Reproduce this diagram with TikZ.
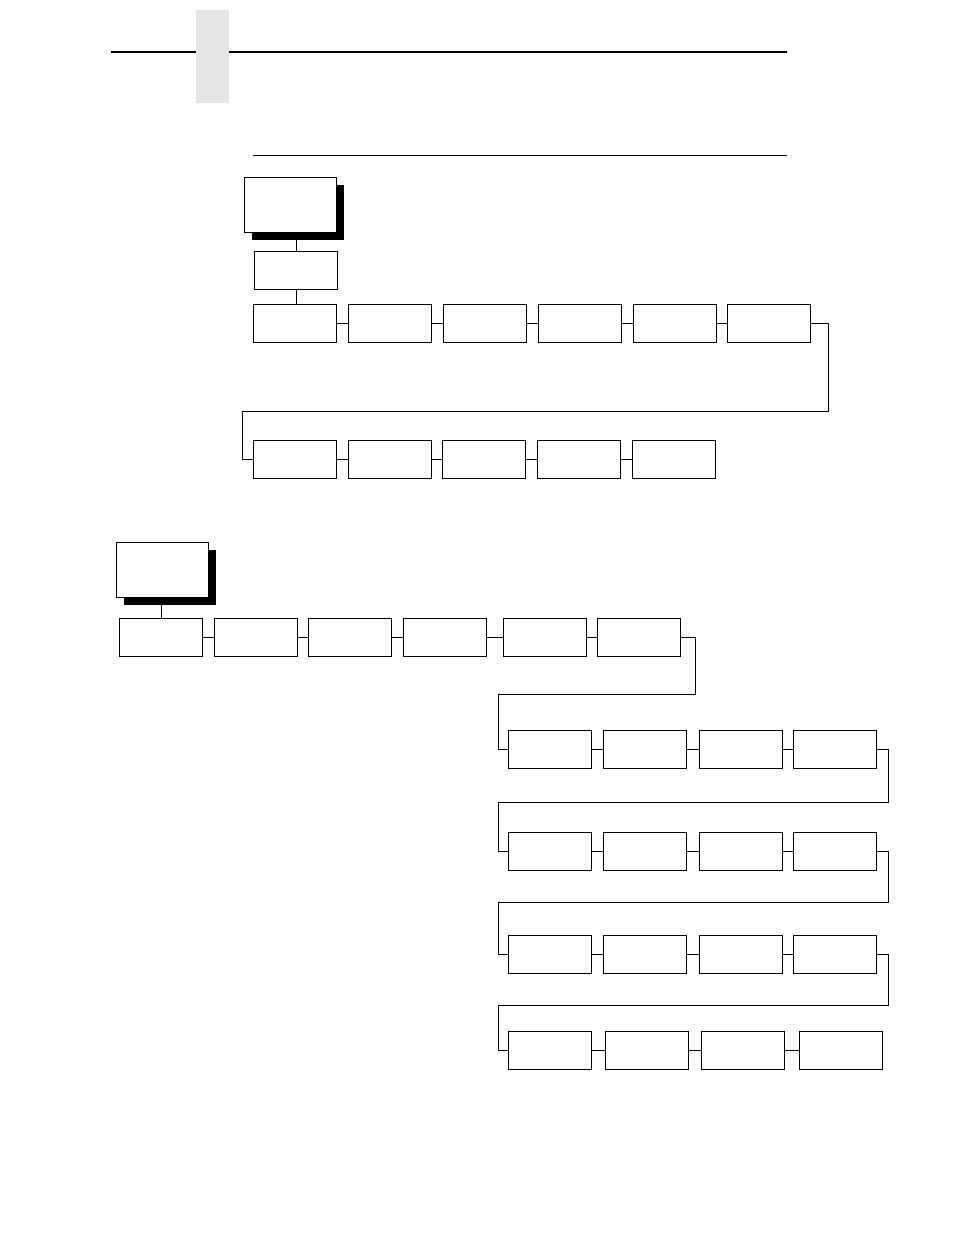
\documentclass[tikz,border=0pt]{standalone}
\usepackage{tikz}
\usetikzlibrary{shadows}

\begin{document}
\begin{tikzpicture}
	[x=1pt,y=-1pt,line width=1pt,
	menubox/.style={draw,fill=white,inner sep=0pt,minimum width=83pt,minimum height=38pt},
	headbox/.style={draw,fill=white,inner sep=0pt,minimum width=92pt,minimum height=55pt,
		drop shadow={shadow xshift=7pt,shadow yshift=-7pt,fill=black,opacity=1}}]
	\useasboundingbox (0,0) rectangle (954,1235);
	% page header
	\draw[line width=2pt] (111,52) -- (787,52);
	\fill[black!10] (196,10) rectangle (229,103);
	\draw (253,155) -- (787,155);

	% first menu
	\node[headbox] (top) at (290.5,205) {};
	\node[menubox] (mid) at (296,270.5) {};
	\draw (mid.north) -- (mid.north |- top.south);
	\node[menubox] (r1) at (295,323.5) {};
	\node[menubox] (r2) at (390,323.5) {};
	\node[menubox] (r3) at (485,323.5) {};
	\node[menubox] (r4) at (580,323.5) {};
	\node[menubox] (r5) at (675,323.5) {};
	\node[menubox] (r6) at (769,323.5) {};
	\node[menubox] (s1) at (295,459.5) {};
	\node[menubox] (s2) at (390,459.5) {};
	\node[menubox] (s3) at (484,459.5) {};
	\node[menubox] (s4) at (579,459.5) {};
	\node[menubox] (s5) at (674,459.5) {};
	\draw (mid.south) -- (mid.south |- r1.north);
	\draw (r1) -- (r2) (r2) -- (r3) (r3) -- (r4) (r4) -- (r5) (r5) -- (r6);
	\draw (s1) -- (s2) (s2) -- (s3) (s3) -- (s4) (s4) -- (s5);
	\coordinate (turn1) at (828,411);
	\coordinate (turn2) at (242,411);
	\draw (r6.east) -| (turn1) -- (turn2) |- (s1.west);

	% second menu
	\node[headbox] (menu) at (162.5,570) {};
	\node[menubox] (a1) at (161,637.5) {};
	\node[menubox] (a2) at (256,637.5) {};
	\node[menubox] (a3) at (350,637.5) {};
	\node[menubox] (a4) at (445,637.5) {};
	\node[menubox] (a5) at (544.5,637.5) {};
	\node[menubox] (a6) at (639,637.5) {};
	\draw (a1.north) -- (a1.north |- menu.south);
	\draw (a1) -- (a2) (a2) -- (a3) (a3) -- (a4) (a4) -- (a5) (a5) -- (a6);
	\foreach \row/\y in {b/749.5,c/851.5,d/954.5} {
		\node[menubox] (\row1) at (550,\y) {};
		\node[menubox] (\row2) at (645,\y) {};
		\node[menubox] (\row3) at (740.5,\y) {};
		\node[menubox] (\row4) at (834.5,\y) {};
		\draw (\row1) -- (\row2) (\row2) -- (\row3) (\row3) -- (\row4);
	}
	\node[menubox] (e1) at (550,1050.5) {};
	\node[menubox] (e2) at (646.5,1050.5) {};
	\node[menubox] (e3) at (743,1050.5) {};
	\node[menubox] (e4) at (840.5,1050.5) {};
	\draw (e1) -- (e2) (e2) -- (e3) (e3) -- (e4);
	\coordinate (turnA) at (695,694);
	\coordinate (turnB) at (498,694);
	\draw (a6.east) -| (turnA) -- (turnB) |- (b1.west);
	\foreach \from/\to/\y in {b/c/802,c/d/902,d/e/1005} {
		\draw (\from4.east) -| (888,\y) -- (498,\y) |- (\to1.west);
	}
\end{tikzpicture}
\end{document}
